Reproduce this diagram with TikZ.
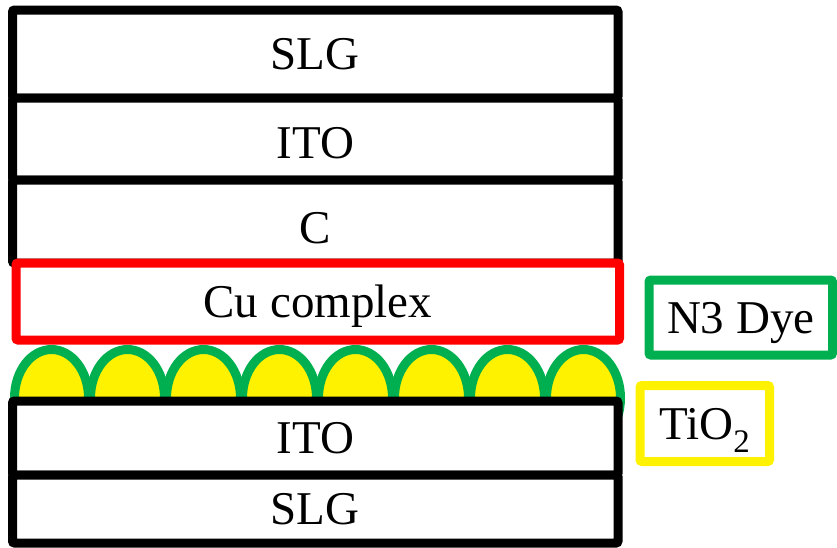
\documentclass[tikz,border=0pt]{standalone}
\usepackage{fontspec}
\setmainfont{Liberation Serif}
\usetikzlibrary{positioning,shapes.geometric}
\definecolor{dyegreen}{HTML}{00B050}

\begin{document}
\begin{tikzpicture}[
  x=1pt,y=-1pt,
  layer/.style={draw=black,fill=white,line width=9pt,rounded corners=2pt,
    minimum width=605.5pt,minimum height=#1,inner sep=0pt,outer sep=0pt,
    font=\fontsize{47}{56}\selectfont,text height=31pt,text depth=0pt},
  legend/.style={draw=#1,fill=white,line width=9pt,rounded corners=2pt,
    inner sep=0pt,font=\fontsize{47}{56}\selectfont,text height=31pt,text depth=0pt},
  grain/.style={ellipse,draw=dyegreen,fill=yellow,line width=9pt,inner sep=0pt,
    minimum width=74pt,minimum height=97pt}
  ]
  \useasboundingbox (0,0) rectangle (837,547);
  % Counter electrode stack
  \node[layer=88pt] (slgtop) at (315.25,54) {SLG};
  \node[layer=82pt,below=0pt of slgtop,text height=39pt] (itotop) {ITO};
  \node[layer=83pt,below=0pt of itotop,text height=43pt] (carbon) {C};
  % Electrolyte
  \node[layer=77pt,draw=red,minimum width=603.5pt] (cucomplex) at (317.75,301.5) {Cu complex};
  % Dyed TiO2 particles
  \foreach \i in {0,...,7}
    \node[grain] (grain\i) at (51.5+76*\i,398) {};
  % Working electrode
  \node[layer=74pt] (itobot) at (315.25,438) {ITO};
  \node[layer=68pt,below=0pt of itobot] (slgbot) {SLG};
  % Legend
  \node[legend=dyegreen,minimum width=183.5pt,minimum height=75pt] (dye) at (740.75,317.5) {N3 Dye};
  \node[legend=yellow,minimum width=129.5pt,minimum height=76pt] (tio) at (704.75,423.5) {TiO\textsubscript{2}};
\end{tikzpicture}
\end{document}
